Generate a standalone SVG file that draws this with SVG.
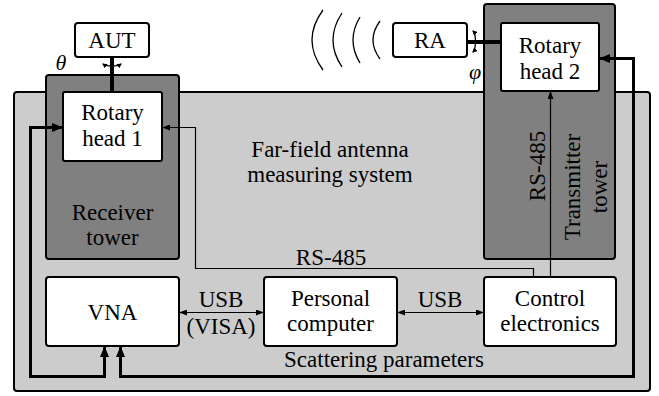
<svg xmlns="http://www.w3.org/2000/svg" width="659" height="396" viewBox="0 0 659 396" font-family="'Liberation Serif', serif">
<defs>
<style>
text{font-family:'Liberation Serif','Times New Roman',serif;font-size:23px;fill:#000;text-anchor:middle}
.it{font-style:italic;font-size:22px}
.box{fill:#fff;stroke:#000;stroke-width:2}
.tower{fill:#808080;stroke:#000;stroke-width:2}
.thick{fill:none;stroke:#000;stroke-width:3}
.thin{fill:none;stroke:#000;stroke-width:1.2}
.stem{fill:none;stroke:#000;stroke-width:4}
.rot{fill:none;stroke:#000;stroke-width:1.3}
.wave{fill:none;stroke:#000;stroke-width:1.3}
</style>
<marker id="ah" markerUnits="userSpaceOnUse" markerWidth="11" markerHeight="9" refX="11" refY="4.5" orient="auto-start-reverse"><path d="M0,0 L11,4.5 L0,9 z" fill="#000"/></marker>
<marker id="at" markerUnits="userSpaceOnUse" markerWidth="8" markerHeight="6" refX="8" refY="3" orient="auto-start-reverse"><path d="M0,0 L8,3 L0,6 z" fill="#000"/></marker>
<marker id="ar" markerUnits="userSpaceOnUse" markerWidth="5" markerHeight="5" refX="4" refY="2.5" orient="auto-start-reverse"><path d="M0,0 L5,2.5 L0,5 z" fill="#000"/></marker>
</defs>

<g id="system">
<rect x="14" y="92" width="636" height="299" rx="3" fill="#cccccc" stroke="#000" stroke-width="2"/>
<text x="330" y="157">Far-field antenna</text>
<text x="330" y="182">measuring system</text>
</g>

<g id="receiver-tower">
<rect class="tower" x="46" y="75" width="133" height="184" rx="3"/>
<text x="112.5" y="220">Receiver</text>
<text x="112.5" y="245">tower</text>
</g>

<g id="transmitter-tower">
<rect class="tower" x="484" y="4" width="131" height="255" rx="3"/>
<text transform="translate(580,187) rotate(-90)">Transmitter</text>
<text transform="translate(607,187) rotate(-90)">tower</text>
</g>

<g id="waves">
<path class="wave" d="M323 10 Q301 40 323 70"/>
<path class="wave" d="M342 13 Q324 40 342 67"/>
<path class="wave" d="M360 17 Q346 40 360 63"/>
<path class="wave" d="M380 21 Q366 40 380 59"/>
</g>

<g id="connectors">
<path class="stem" d="M112 57 L112 92"/>
<path class="stem" d="M467 42 L501 42"/>
<path class="rot" d="M103 64 A10 3.5 0 0 0 121 64" marker-start="url(#ar)" marker-end="url(#ar)"/>
<path class="rot" d="M473 31 A3.5 11 0 0 1 473 52" marker-start="url(#ar)" marker-end="url(#ar)"/>
<path class="thick" d="M104.5 346 L104.5 376.5 L30.5 376.5 L30.5 127.5 L63 127.5" marker-start="url(#ah)" marker-end="url(#ah)"/>
<path class="thick" d="M120.5 346 L120.5 376.5 L633.5 376.5 L633.5 58.5 L599 58.5" marker-start="url(#ah)" marker-end="url(#ah)"/>
<path class="thin" d="M162 127.5 L195.5 127.5 L195.5 268.5 L533.5 268.5 L533.5 277" marker-start="url(#at)"/>
<path class="thin" d="M550.5 277 L550.5 91" marker-end="url(#at)"/>
<path class="thin" d="M179 312.5 L264 312.5" marker-start="url(#at)" marker-end="url(#at)"/>
<path class="thin" d="M397 312.5 L484 312.5" marker-start="url(#at)" marker-end="url(#at)"/>
<text x="331" y="265">RS-485</text>
<text transform="translate(545,166) rotate(-90)">RS-485</text>
<text x="221" y="307">USB</text>
<text x="221" y="334">(VISA)</text>
<text x="440" y="307">USB</text>
<text x="384" y="367">Scattering parameters</text>
<text class="it" x="61" y="70">θ</text>
<text class="it" x="475" y="79">φ</text>
</g>

<g id="aut">
<rect class="box" x="75" y="23" width="74" height="34" rx="3"/>
<text x="112" y="48">AUT</text>
</g>

<g id="ra">
<rect class="box" x="393" y="23" width="74" height="34" rx="3"/>
<text x="430" y="48">RA</text>
</g>

<g id="rotary-head-1">
<rect class="box" x="63" y="92" width="99" height="69" rx="2"/>
<text x="112.5" y="120">Rotary</text>
<text x="112.5" y="146">head 1</text>
</g>

<g id="rotary-head-2">
<rect class="box" x="501" y="23" width="98" height="68" rx="2"/>
<text x="550" y="53">Rotary</text>
<text x="550" y="79">head 2</text>
</g>

<g id="vna">
<rect class="box" x="46" y="277" width="133" height="69" rx="3"/>
<text x="112.5" y="320">VNA</text>
</g>

<g id="pc">
<rect class="box" x="264" y="277" width="133" height="69" rx="3"/>
<text x="330.5" y="306">Personal</text>
<text x="330.5" y="331">computer</text>
</g>

<g id="control">
<rect class="box" x="484" y="277" width="132" height="69" rx="3"/>
<text x="550" y="306">Control</text>
<text x="550" y="331">electronics</text>
</g>
</svg>
